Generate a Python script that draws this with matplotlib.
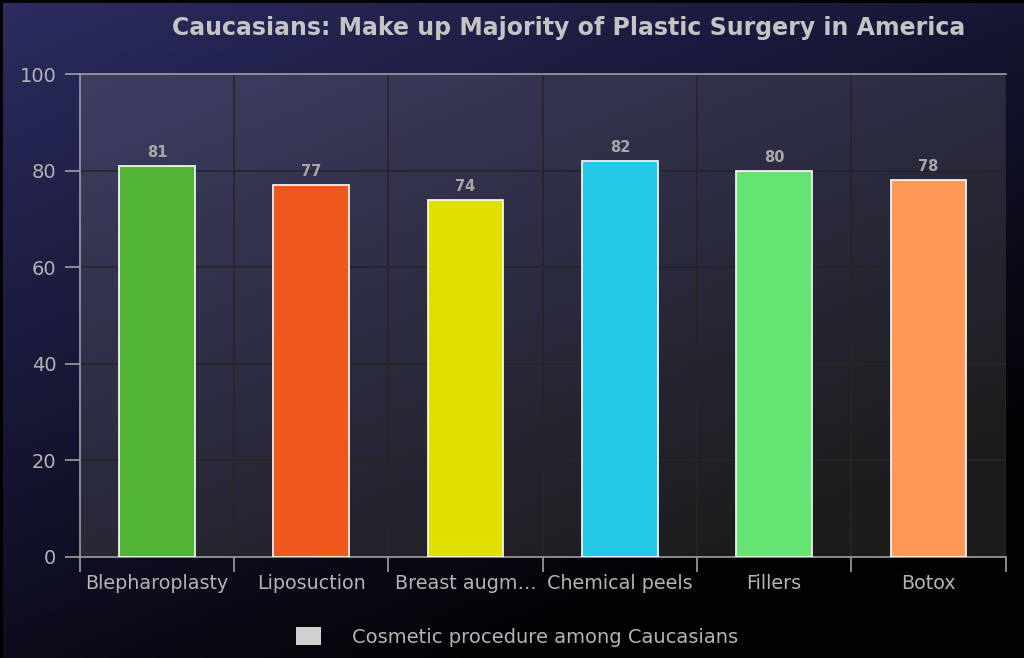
import numpy as np
import matplotlib
matplotlib.use("Agg")
import matplotlib.pyplot as plt
from matplotlib.patches import Patch
from matplotlib.colors import LinearSegmentedColormap

procedures = ["Blepharoplasty", "Liposuction", "Breast augm\u2026", "Chemical peels", "Fillers", "Botox"]
values = [81, 77, 74, 82, 80, 78]
bar_colors = ["#52b435", "#ee581c", "#dfe000", "#22c8e5", "#66e473", "#ff9955"]
y_ticks = [0, 20, 40, 60, 80, 100]
series_name = "Cosmetic procedure among Caucasians"

text_gray = "#b4b4b4"

fig = plt.figure(figsize=(10.24, 6.58), dpi=100)
fig.patch.set_facecolor("black")

# figure background gradient (navy top-left -> black bottom-right)
bg = fig.add_axes([0.003, 0.0, 0.997, 0.995], zorder=-10)
bg.axis("off")
gx, gy = np.meshgrid(np.linspace(0, 1, 300), np.linspace(0, 1, 200))
t = np.clip((gx * 0.6 + gy * 0.9) / 1.2, 0, 1)
cmap_fig = LinearSegmentedColormap.from_list("figbg", ["#2c2c60", "#161634", "#020204"])
bg.imshow(t, cmap=cmap_fig, aspect="auto", extent=[0, 1, 0, 1], origin="upper")
bg.set_xlim(0, 1)
bg.set_ylim(0, 1)

ax = fig.add_axes([0.078, 0.1535, 0.904, 0.734])
ax.set_facecolor("none")
t2 = np.clip((gx * 0.7 + gy * 0.9) / 1.4, 0, 1)
cmap_ax = LinearSegmentedColormap.from_list("axbg", ["#3e3e64", "#2c2c42", "#1c1c1c"])
ax.imshow(t2, cmap=cmap_ax, aspect="auto", extent=[0, 1, 0, 1], origin="upper",
          transform=ax.transAxes, zorder=0)

x = np.arange(len(procedures))
bars = ax.bar(x, values, width=0.49, color=bar_colors, edgecolor="white", linewidth=1.2, zorder=3)
for xi, v in zip(x, values):
    ax.text(xi, v + 1.2, str(v), ha="center", va="bottom", color="#a8a8a8",
            fontsize=10.5, fontweight="bold", zorder=4)

ax.set_xlim(-0.5, len(procedures) - 0.5)
ax.set_ylim(0, 100)
ax.set_yticks(y_ticks)
ax.set_xticks(x)
ax.set_xticklabels(procedures)
ax.set_xticks(np.arange(-0.5, len(procedures)), minor=True)

ax.grid(True, axis="y", color="#262626", linewidth=1.2, zorder=1)
ax.grid(True, axis="x", which="minor", color="#262626", linewidth=1.2, zorder=1)
ax.set_axisbelow(True)

ax.tick_params(axis="x", which="major", length=0, pad=12, labelsize=13.8, labelcolor=text_gray)
ax.tick_params(axis="x", which="minor", length=11, width=1.2, color="#a0a0a0")
ax.tick_params(axis="y", length=11, width=1.2, color="#a0a0a0", pad=6,
               labelsize=14, labelcolor=text_gray)

for side in ["left", "bottom", "top"]:
    ax.spines[side].set_color("#a0a0a0")
    ax.spines[side].set_linewidth(1.2)
ax.spines["right"].set_visible(False)

fig.text(0.555, 0.958, "Caucasians: Make up Majority of Plastic Surgery in America",
         ha="center", va="center", color="#c4c4c4", fontsize=17, fontweight="bold")

leg = fig.legend(handles=[Patch(facecolor="#d0d0d0", edgecolor="none", label=series_name)],
                 loc="center", bbox_to_anchor=(0.505, 0.032), frameon=False,
                 fontsize=14, handlelength=1.3, handleheight=1.05, handletextpad=1.6)
for txt in leg.get_texts():
    txt.set_color(text_gray)

fig.savefig("out.png", dpi=100, facecolor=fig.get_facecolor())
